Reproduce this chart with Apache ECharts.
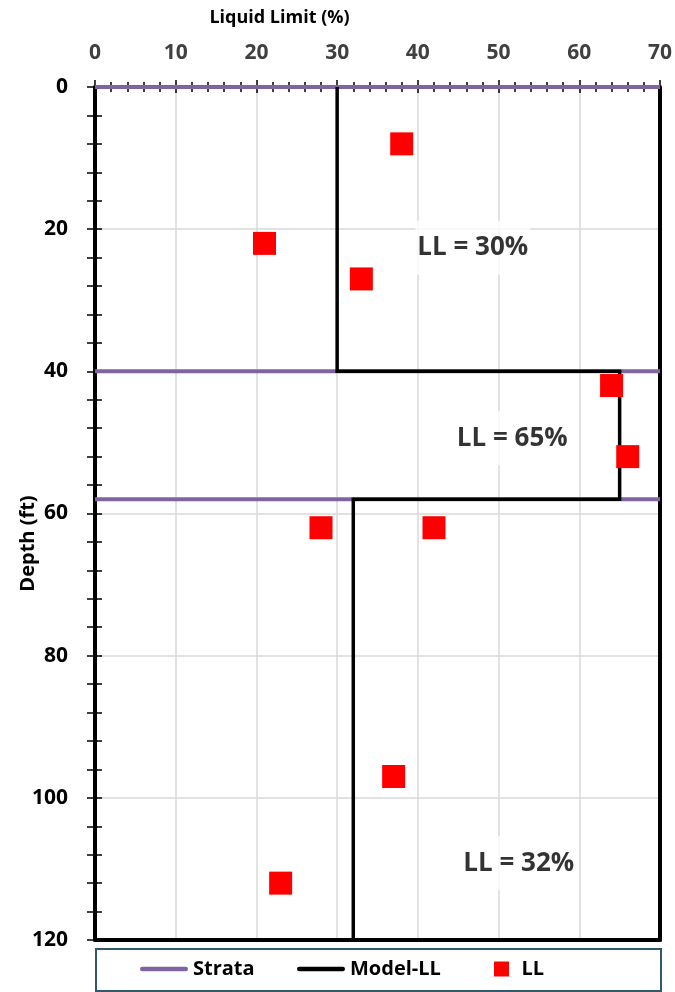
<!DOCTYPE html>
<html>
<head>
<meta charset="utf-8">
<script src="https://cdn.jsdelivr.net/npm/echarts@6/dist/echarts.min.js"></script>
<style>html,body{margin:0;padding:0;background:#fff}#c{width:675px;height:992px}</style>
</head>
<body>
<div id="c"></div>
<script>
// ---- data ----
var xTicks = [0, 10, 20, 30, 40, 50, 60, 70];
var yTicks = [0, 20, 40, 60, 80, 100, 120];
var strataDepths = [0, 40, 58];
var modelLL = [30, 30, 65, 65, 32, 32];
var modelDepth = [0, 40, 40, 58, 58, 120];
var llValues = [38, 21, 33, 64, 66, 28, 42, 37, 23];
var llDepths = [8, 22, 27, 42, 52, 62, 62, 97, 112];
var noteText = ['LL = 30%', 'LL = 65%', 'LL = 32%'];
var noteX = [46.8, 51.7, 52.5];
var noteY = [22.6, 49.4, 109.2];

var FONT = '"Open Sans", "Noto Sans", sans-serif';
var xMin = xTicks[0], xMax = xTicks[xTicks.length - 1], xInt = xTicks[1] - xTicks[0];
var yMin = yTicks[0], yMax = yTicks[yTicks.length - 1], yInt = yTicks[1] - yTicks[0];

var chart = echarts.init(document.getElementById('c'), null, {renderer: 'canvas'});

var strataSeries = strataDepths.map(function (d) {
  return {
    name: 'Strata', type: 'line', symbol: 'none', z: 2,
    xAxisIndex: 0, yAxisIndex: 0,
    lineStyle: {color: '#8064A2', width: 4},
    itemStyle: {color: '#8064A2'},
    data: [[xMin, d], [xMax, d]],
    silent: true
  };
});

var modelData = modelLL.map(function (v, i) { return [v, modelDepth[i]]; });
var llData = llValues.map(function (v, i) { return [v, llDepths[i]]; });
var noteData = noteText.map(function (t, i) {
  return {value: [noteX[i], noteY[i]], name: t};
});

function baseX(extra) {
  return Object.assign({
    type: 'value', min: xMin, max: xMax, interval: xInt, gridIndex: 0
  }, extra);
}
function baseY(extra) {
  return Object.assign({
    type: 'value', min: yMin, max: yMax, interval: yInt, inverse: true, gridIndex: 0
  }, extra);
}

var LINE_ICON = 'path://M2.5,0 H50.5 A2.5,2.5 0 0 1 50.5,5 H2.5 A2.5,2.5 0 0 1 2.5,0 Z';
var legendText = {fontFamily: FONT, fontSize: 20, fontWeight: 'bold', color: '#000'};

var option = {
  animation: false,
  backgroundColor: '#fff',
  textStyle: {fontFamily: FONT},
  grid: {left: 95, right: 15, top: 87, bottom: 52, containLabel: false, outerBoundsMode: 'none'},
  xAxis: [
    baseX({
      position: 'top',
      name: 'Liquid Limit (%)', nameLocation: 'middle', nameGap: 60,
      nameTextStyle: {fontFamily: FONT, fontSize: 18, fontWeight: 'bold', color: '#000', padding: [0, 196, 0, 0]},
      axisLine: {show: true, onZero: false, lineStyle: {color: '#000', width: 2}},
      axisTick: {show: true, inside: false, length: 7, lineStyle: {color: '#000', width: 1.5}},
      minorTick: {show: true, splitNumber: 5, length: 5, lineStyle: {color: '#000', width: 1.5}},
      splitLine: {show: true, lineStyle: {color: '#D9D9D9', width: 1.5}},
      axisLabel: {fontFamily: FONT, fontSize: 21, fontWeight: 'bold', color: '#404040', margin: 23}
    }),
    baseX({
      position: 'top',
      axisLine: {show: false, onZero: false},
      axisTick: {show: true, inside: true, length: 6, lineStyle: {color: '#000', width: 1.5}},
      minorTick: {show: true, splitNumber: 5, length: 5, lineStyle: {color: '#000', width: 1.5}},
      splitLine: {show: false},
      axisLabel: {show: false}
    }),
    baseX({
      position: 'bottom',
      axisLine: {show: true, onZero: false, lineStyle: {color: '#000', width: 4}},
      axisTick: {show: false},
      splitLine: {show: false},
      axisLabel: {show: false}
    })
  ],
  yAxis: [
    baseY({
      position: 'left',
      name: 'Depth (ft)', nameLocation: 'middle', nameGap: 57, nameRotate: 90,
      nameMoveOverlap: false,
      nameTextStyle: {fontFamily: FONT, fontSize: 20, fontWeight: 'bold', color: '#000', padding: [0, 60, 0, 0]},
      axisLine: {show: true, onZero: false, lineStyle: {color: '#000', width: 4}},
      axisTick: {show: true, inside: false, length: 8, lineStyle: {color: '#000', width: 1.5}},
      minorTick: {show: true, splitNumber: 5, length: 8, lineStyle: {color: '#000', width: 1.5}},
      splitLine: {show: true, lineStyle: {color: '#D9D9D9', width: 1.5}},
      axisLabel: {fontFamily: FONT, fontSize: 21, fontWeight: 'bold', color: '#000', margin: 27}
    }),
    baseY({
      position: 'left',
      axisLine: {show: false, onZero: false},
      axisTick: {show: true, inside: true, length: 7, lineStyle: {color: '#000', width: 1.5}},
      minorTick: {show: true, splitNumber: 5, length: 7, lineStyle: {color: '#000', width: 1.5}},
      splitLine: {show: false},
      axisLabel: {show: false}
    }),
    baseY({
      position: 'right',
      axisLine: {show: true, onZero: false, lineStyle: {color: '#000', width: 4}},
      axisTick: {show: false},
      splitLine: {show: false},
      axisLabel: {show: false}
    })
  ],
  legend: [
    {
      data: [{name: 'Strata', icon: LINE_ICON}], left: 140, top: 959, padding: 0,
      itemWidth: 48, itemHeight: 14, textStyle: legendText, selectedMode: false
    },
    {
      data: [{name: 'Model-LL', icon: LINE_ICON}], left: 297, top: 959, padding: 0,
      itemWidth: 48, itemHeight: 14, textStyle: legendText, selectedMode: false
    },
    {
      data: [{name: 'LL', icon: 'path://M0,0h10v10h-10z'}], left: 494, top: 959, padding: 0,
      itemWidth: 30, itemHeight: 15, textStyle: legendText, selectedMode: false
    }
  ],
  graphic: [{
    type: 'rect', left: 95, top: 948, z: -1,
    shape: {width: 565, height: 42},
    style: {fill: '#fff', stroke: '#31596B', lineWidth: 2}
  }],
  series: strataSeries.concat([
    {
      name: 'Model-LL', type: 'line', symbol: 'none', z: 3,
      xAxisIndex: 0, yAxisIndex: 0,
      lineStyle: {color: '#000', width: 3.5, join: 'miter'},
      itemStyle: {color: '#000'},
      data: modelData, silent: true
    },
    {
      name: 'LL', type: 'scatter', symbol: 'rect', symbolSize: 23, z: 4,
      xAxisIndex: 0, yAxisIndex: 0,
      itemStyle: {color: '#FF0000', opacity: 1},
      data: llData
    },
    {
      name: 'notes', type: 'scatter', symbolSize: 0, z: 5,
      xAxisIndex: 0, yAxisIndex: 0, silent: true,
      label: {
        show: true, position: 'inside', formatter: '{b}',
        fontFamily: FONT, fontSize: 26, fontWeight: 'bold', color: '#000',
        backgroundColor: '#fff', padding: [26, 2, 2, 2]
      },
      data: noteData
    }
  ])
};
chart.setOption(option);
</script>
</body>
</html>
